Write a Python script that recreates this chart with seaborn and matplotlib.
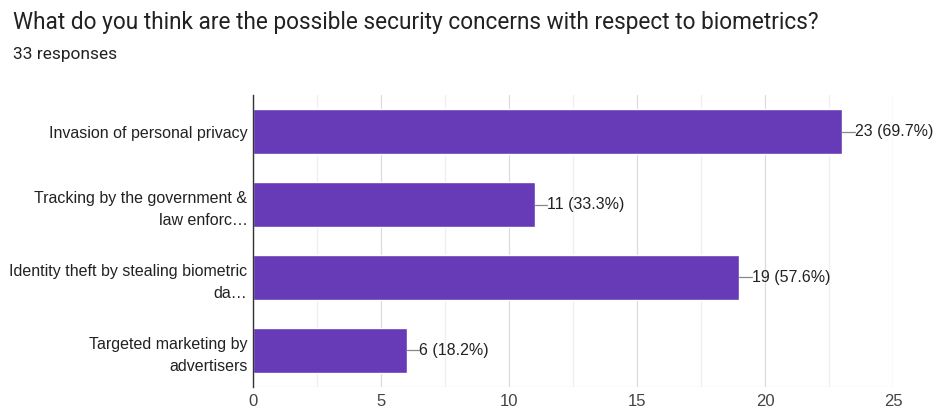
import matplotlib
matplotlib.use("Agg")
import matplotlib.pyplot as plt
import seaborn as sns
import pandas as pd
from matplotlib.ticker import MultipleLocator

categories = ["Invasion of personal privacy",
              "Tracking by the government &\nlaw enforc…",
              "Identity theft by stealing biometric\nda…",
              "Targeted marketing by\nadvertisers"]
counts = [23, 11, 19, 6]
percents = ["69.7%", "33.3%", "57.6%", "18.2%"]
xticks = [0, 5, 10, 15, 20, 25]

sns.set_theme(style="white")
plt.rcParams['font.family'] = ['Liberation Sans', 'DejaVu Sans']

df = pd.DataFrame({"cat": categories, "count": counts})

fig = plt.figure(figsize=(9.37, 4.12), dpi=100)
ax = fig.add_axes([0.270, 0.061, 0.683, 0.708])
sns.barplot(data=df, y="cat", x="count", color="#673ab7", saturation=1,
            width=0.62, ax=ax, orient="h")

n = len(categories)
ax.set_ylim(n - 0.5, -0.5)
ax.set_xlim(0, 25)
ax.set_xticks(xticks)
ax.xaxis.set_minor_locator(MultipleLocator(2.5))
ax.grid(axis="x", which="major", color="#dcdcdc", lw=0.9)
ax.grid(axis="x", which="minor", color="#efefef", lw=0.9)
ax.set_axisbelow(True)
for s in ["top", "right", "bottom"]:
    ax.spines[s].set_visible(False)
ax.spines["left"].set_color("#333333")
ax.spines["left"].set_linewidth(1.0)
ax.set_xlabel("")
ax.set_ylabel("")
ax.tick_params(axis="x", labelsize=12, colors="#444444", length=0, pad=5)
ax.tick_params(axis="y", labelsize=11.5, colors="#222222", length=0, pad=4)
for lbl in ax.get_yticklabels():
    lbl.set_horizontalalignment("right")
    lbl.set_multialignment("right")
    lbl.set_linespacing(1.6)
ax.axhline(n - 0.5, color="#e6e6e6", lw=0.9, zorder=0)

for i, (c, p) in enumerate(zip(counts, percents)):
    ax.plot([c, c + 0.5], [i, i], color="#888888", lw=0.9)
    ax.text(c + 0.5, i, f"{c} ({p})", va="center", ha="left",
            fontsize=11.5, color="#222222")

fig.text(13/937, 1 - 22/412, "What do you think are the possible security concerns with respect to biometrics?",
         fontsize=16.3, color="#222222", va="center", ha="left",
         family=['Roboto', 'DejaVu Sans'])
fig.text(13/937, 1 - 55/412, "33 responses", fontsize=12.5, color="#222222",
         va="center", ha="left", family=['Roboto', 'DejaVu Sans'])

fig.savefig("out.png", dpi=100)
